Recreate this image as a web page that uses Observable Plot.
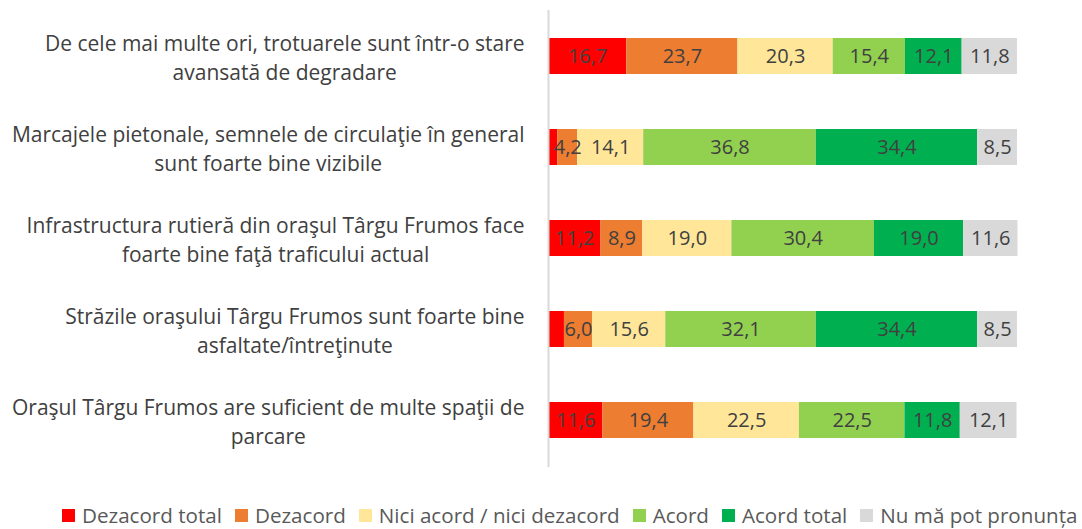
<!DOCTYPE html>
<html>
<head>
<meta charset="utf-8">
<script src="https://cdn.jsdelivr.net/npm/d3@7"></script>
<script src="https://cdn.jsdelivr.net/npm/@observablehq/plot@0.6"></script>
<style>
  html, body { margin: 0; padding: 0; background: #fff; overflow: hidden; }
  #chart { width: 1082px; height: 500px; }
  #legend { display: flex; align-items: center; margin-left: 62px; height: 27px; padding-top: 2px;
            font-family: "Open Sans", sans-serif; font-size: 20.6px; line-height: 27px; color: #595959; white-space: nowrap; }
  #legend .item { display: flex; align-items: center; margin-right: 13px; }
  #legend .sw { width: 13px; height: 13px; margin-right: 7px; }
</style>
</head>
<body>
<div id="chart"></div>
<div id="legend"></div>
<script>
const categories = [
  "De cele mai multe ori, trotuarele sunt într-o stare\navansată de degradare",
  "Marcajele pietonale, semnele de circulaţie în general\nsunt foarte bine vizibile",
  "Infrastructura rutieră din oraşul Târgu Frumos face\nfoarte bine faţă traficului actual",
  "Străzile oraşului Târgu Frumos sunt foarte bine\nasfaltate/întreţinute",
  "Oraşul Târgu Frumos are suficient de multe spaţii de\nparcare"
];
const seriesNames = ["Dezacord total", "Dezacord", "Nici acord / nici dezacord", "Acord", "Acord total", "Nu mă pot pronunța"];
const seriesColors = ["#FF0000", "#ED7D31", "#FFE699", "#92D050", "#00B050", "#D9D9D9"];
const dezacordTotal = [16.7, 2.0, 11.2, 3.4, 11.6];
const dezacord      = [23.7, 4.2, 8.9, 6.0, 19.4];
const niciAcord     = [20.3, 14.1, 19.0, 15.6, 22.5];
const acord         = [15.4, 36.8, 30.4, 32.1, 22.5];
const acordTotal    = [12.1, 34.4, 19.0, 34.4, 11.8];
const nuPronunta    = [11.8, 8.5, 11.6, 8.5, 12.1];
// labels shown in the reference (small red segments of rows 2 and 4 are unlabeled)
const shownLabel = [
  [true, true, true, true, true, true],
  [false, true, true, true, true, true],
  [true, true, true, true, true, true],
  [false, true, true, true, true, true],
  [true, true, true, true, true, true]
];

const seriesValues = [dezacordTotal, dezacord, niciAcord, acord, acordTotal, nuPronunta];
const data = [];
categories.forEach((c, i) => {
  seriesValues.forEach((vals, s) => {
    data.push({category: c, series: seriesNames[s], value: vals[i], show: shownLabel[i][s]});
  });
});

const fmt = v => v.toFixed(1).replace(".", ",");
const labelFont = 21;
const labelFamily = "'Open Sans', sans-serif";

const plot = Plot.plot({
  width: 1082,
  height: 500,
  marginLeft: 548,
  marginRight: 65,
  marginTop: 10,
  marginBottom: 33,
  style: {fontFamily: labelFamily, color: "#404040", background: "#fff"},
  x: {domain: [0, 100], axis: null},
  y: {domain: categories, axis: null, paddingInner: 0.6, paddingOuter: 0.29},
  color: {domain: seriesNames, range: seriesColors},
  marks: [
    Plot.barX(data, Plot.stackX({x: "value", y: "category", fill: "series", z: "series", order: seriesNames})),
    Plot.text(data, Plot.stackX({
      x: "value", y: "category", z: "series", order: seriesNames,
      text: d => d.show ? fmt(d.value) : "",
      fill: "#404040",
      fontSize: 20
    })),
    Plot.ruleX([0], {stroke: "#D9D9D9", strokeWidth: 2}),
    Plot.text(categories, {
      x: () => 0,
      y: d => d,
      text: d => d,
      textAnchor: "middle",
      lineHeight: 1.34,
      fontSize: labelFont,
      fill: "#404040",
      dx: -24,
      render(index, scales, values, dimensions, context, next) {
        const g = next(index, scales, values, dimensions, context);
        const ctx = document.createElement("canvas").getContext("2d");
        ctx.font = `${labelFont}px ${labelFamily}`;
        const texts = g.querySelectorAll("text");
        texts.forEach((el, j) => {
          const lines = categories[index[j]].split("\n");
          const w = Math.max(...lines.map(l => ctx.measureText(l).width));
          el.setAttribute("transform", (el.getAttribute("transform") || "") + ` translate(${-w / 2},0)`);
        });
        return g;
      }
    })
  ]
});
document.getElementById("chart").appendChild(plot);

const legend = document.getElementById("legend");
seriesNames.forEach((n, i) => {
  const item = document.createElement("div");
  item.className = "item";
  const sw = document.createElement("div");
  sw.className = "sw";
  sw.style.background = seriesColors[i];
  const t = document.createElement("span");
  t.textContent = n;
  item.appendChild(sw);
  item.appendChild(t);
  legend.appendChild(item);
});
</script>
</body>
</html>
